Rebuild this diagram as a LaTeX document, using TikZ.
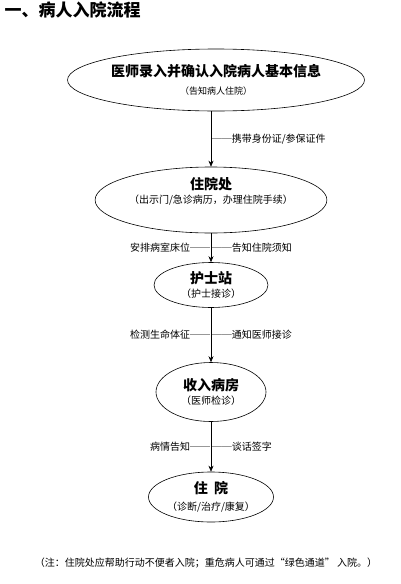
\documentclass[tikz,border=0pt]{standalone}
\usepackage{fontspec}
\setmainfont{Noto Sans CJK SC}
\usetikzlibrary{shapes.geometric,arrows.meta}
\newcommand\stagetext[3][4pt]{{\fontsize{14}{16}\selectfont\bfseries #2}\\[#1]{\fontsize{10}{12}\selectfont #3}}
\begin{document}
\begin{tikzpicture}[x=1pt,y=-1pt,>={Stealth[length=6pt,width=5pt]},line join=round,
	stage/.style={draw,ellipse,inner sep=0pt,align=center,line width=0.6pt},
	tag/.style={font=\fontsize{10}{12}\selectfont,inner sep=0.5pt}]
	\useasboundingbox (0,0) rectangle (401,584);
	\node[anchor=west,font=\fontsize{17}{19}\selectfont\bfseries] (title) at (1,10) {一、病人入院流程};
	\node[stage,minimum width=242,minimum height=62] (doctor) at (216,80)
		{\stagetext[6pt]{医师录入并确认入院病人基本信息}{\fontsize{9}{11}\selectfont（告知病人住院）}};
	\node[stage,minimum width=190,minimum height=66] (desk) at (211,200)
		{\stagetext[2pt]{住院处}{（出示门/急诊病历，办理住院手续）}\\[8pt]};
	\node[stage,minimum width=114,minimum height=45] (nurse) at (211,285)
		{\stagetext[2pt]{护士站}{（护士接诊）}};
	\node[stage,minimum width=110,minimum height=59] (ward) at (211,392)
		{\stagetext[2pt]{收入病房}{（医师检诊）}};
	\node[stage,minimum width=125,minimum height=50] (stay) at (211,497)
		{\stagetext[5pt]{住\hspace{0.45em}院}{（诊断/治疗/康复）}};
	% connectors
	\draw[->,line width=0.6pt] (doctor.south -| desk.north) -- node[tag,right] (carry) {──携带身份证/参保证件} (desk.north);
	\draw[->,line width=0.6pt] (desk.south) -- node[tag,left] (bed) {安排病室床位──} node[tag,right] (rules) {──告知住院须知} (nurse.north);
	\draw[->,line width=0.6pt] (nurse.south) -- node[tag,left] (vital) {检测生命体征──} node[tag,right] (call) {──通知医师接诊} (ward.north);
	\draw[->,line width=0.6pt] (ward.south) -- node[tag,left] (inform) {病情告知──} node[tag,right] (sign) {──谈话签字} (stay.north);
	\node[tag] (remark) at (206,563) {（注：住院处应帮助行动不便者入院；重危病人可通过“绿色通道”\ 入院。）};
\end{tikzpicture}
\end{document}
